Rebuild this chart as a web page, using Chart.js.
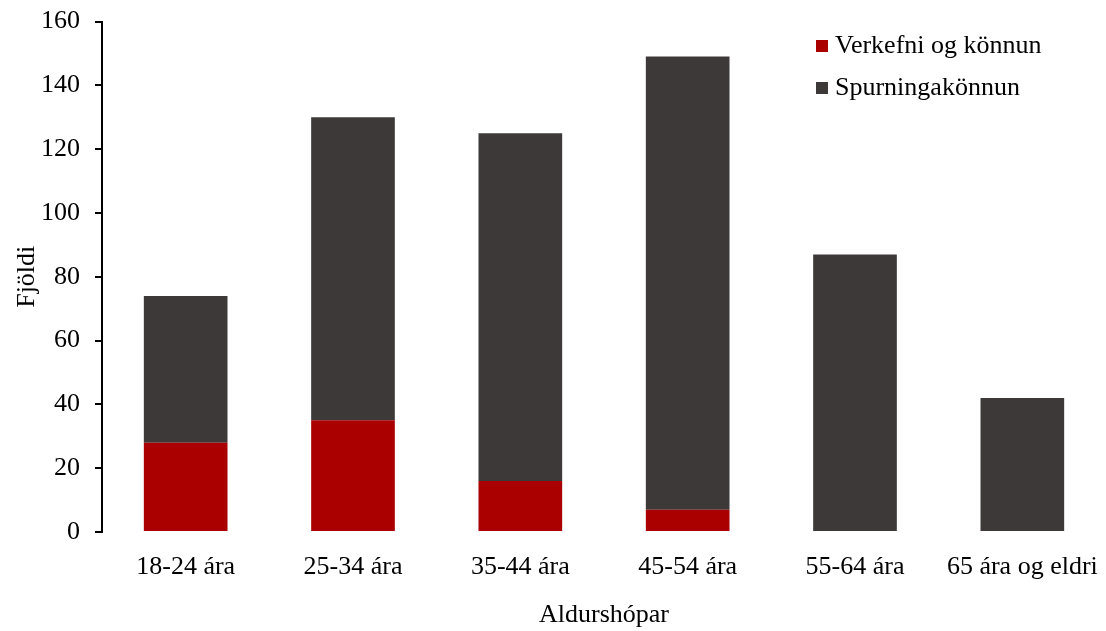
<!DOCTYPE html>
<html>
<head>
<meta charset="utf-8">
<script src="https://cdn.jsdelivr.net/npm/chart.js@4/dist/chart.umd.min.js"></script>
<style>
  html, body { margin: 0; padding: 0; background: #fff; }
  #wrap { width: 1106px; height: 631px; }
</style>
</head>
<body>
<div id="wrap"><canvas id="myChart"></canvas></div>
<script>
const ageGroups = ["18-24 ára", "25-34 ára", "35-44 ára", "45-54 ára", "55-64 ára", "65 ára og eldri"];
const taskValues = [28, 35, 16, 7, 0, 0];
const quizValues = [46, 95, 109, 142, 87, 42];
const seriesNames = ["Verkefni og könnun", "Spurningakönnun"];
const seriesColors = ["#aa0000", "#3d3939"];

const fontFamily = "'Liberation Serif', 'Times New Roman', serif";
const fontSize = 26;

// legend drawn inside the plot, top right
const boxLegend = {
  id: 'boxLegend',
  afterDraw(chart) {
    const ctx = chart.ctx;
    ctx.save();
    ctx.font = fontSize + 'px ' + fontFamily;
    ctx.textBaseline = 'middle';
    chart.data.datasets.forEach((ds, i) => {
      const y = 46 + i * 42;
      ctx.fillStyle = ds.backgroundColor;
      ctx.fillRect(816, y - 6, 12, 12);
      ctx.fillStyle = '#000';
      ctx.fillText(ds.label, 835, y);
    });
    ctx.restore();
  }
};

new Chart("myChart", {
  type: "bar",
  data: {
    labels: ageGroups,
    datasets: [
      { label: seriesNames[0], data: taskValues, backgroundColor: seriesColors[0] },
      { label: seriesNames[1], data: quizValues, backgroundColor: seriesColors[1] }
    ]
  },
  options: {
    responsive: true,
    maintainAspectRatio: false,
    animation: false,
    layout: { padding: { top: 20, right: 0, left: 12, bottom: 0 } },
    datasets: { bar: { categoryPercentage: 1, barPercentage: 0.5 } },
    plugins: {
      legend: { display: false },
      tooltip: { enabled: false }
    },
    scales: {
      x: {
        stacked: true,
        grid: { display: false },
        border: { display: false },
        ticks: { color: '#000', padding: 12, font: { family: fontFamily, size: fontSize } },
        title: { display: true, text: 'Aldurshópar', color: '#000', padding: { top: 10, bottom: 0 }, font: { family: fontFamily, size: fontSize } },
        afterFit(scale) {
          scale.height = 99;
          scale.paddingLeft = 0;
          scale.paddingRight = 0;
        }
      },
      y: {
        stacked: true,
        min: 0,
        max: 160,
        grid: { drawOnChartArea: false, drawTicks: true, tickLength: 7, color: '#000', lineWidth: 2 },
        border: { display: true, color: '#000', width: 2 },
        ticks: { stepSize: 20, color: '#000', padding: 15, font: { family: fontFamily, size: fontSize, lineHeight: 0.5 } },
        title: { display: true, text: 'Fjöldi', color: '#000', padding: 0, font: { family: fontFamily, size: fontSize } },
        afterFit(scale) { scale.width = 90; }
      }
    }
  },
  plugins: [boxLegend]
});
</script>
</body>
</html>
